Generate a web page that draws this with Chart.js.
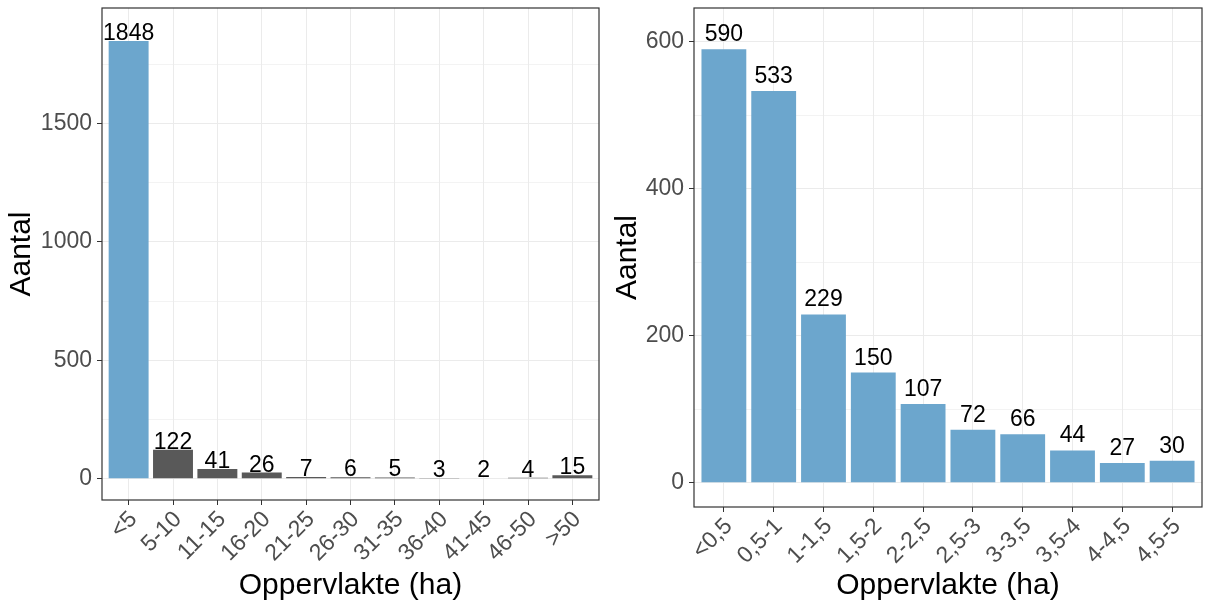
<!DOCTYPE html>
<html>
<head>
<meta charset="utf-8">
<script src="https://cdn.jsdelivr.net/npm/chart.js@4/dist/chart.umd.min.js"></script>
<style>
  html, body { margin: 0; padding: 0; background: #fff; }
  .panel { position: absolute; top: 0; height: 605px; }
</style>
</head>
<body>
<div class="panel" style="left:0;width:600px"><canvas id="left" width="600" height="605"></canvas></div>
<div class="panel" style="left:600px;width:605px"><canvas id="right" width="605" height="605"></canvas></div>
<script>
// all parcels, by size class
const leftCats = ['<5', '5-10', '11-15', '16-20', '21-25', '26-30', '31-35', '36-40', '41-45', '46-50', '>50'];
const leftCounts = [1848, 122, 41, 26, 7, 6, 5, 3, 2, 4, 15];
const leftYTicks = [0, 250, 500, 750, 1000, 1250, 1500, 1750];
const leftYLabels = [0, 500, 1000, 1500];

// detail of the <5 ha class
const rightCats = ['<0,5', '0,5-1', '1-1,5', '1,5-2', '2-2,5', '2,5-3', '3-3,5', '3,5-4', '4-4,5', '4,5-5'];
const rightCounts = [590, 533, 229, 150, 107, 72, 66, 44, 27, 30];
const rightYTicks = [0, 100, 200, 300, 400, 500, 600];
const rightYLabels = [0, 200, 400, 600];

const BLUE = '#6CA6CD';   // skyblue3
const GREY = '#595959';   // grey35
const FONT = '"Liberation Sans", Arial, sans-serif';
Chart.defaults.font.family = FONT;

// panel border + value labels on top of bars
const panelBits = {
  id: 'panelBits',
  afterDatasetsDraw(chart, args, opts) {
    const ctx = chart.ctx;
    const meta = chart.getDatasetMeta(0);
    const vals = chart.data.datasets[0].data;
    ctx.save();
    ctx.fillStyle = '#000';
    ctx.font = '23px ' + FONT;
    ctx.textAlign = 'center';
    ctx.textBaseline = 'alphabetic';
    meta.data.forEach((bar, i) => {
      ctx.fillText(String(vals[i].y), bar.x, bar.y - opts.gap);
    });
    const a = chart.chartArea;
    ctx.strokeStyle = '#333333';
    ctx.lineWidth = 1.2;
    ctx.strokeRect(a.left, a.top, a.right - a.left, a.bottom - a.top);
    ctx.restore();
  }
};

function makeChart(id, cats, counts, yTicks, yLabels, o) {
  return new Chart(document.getElementById(id), {
    type: 'bar',
    data: {
      datasets: [{
        data: cats.map((c, i) => ({ x: i, y: counts[i] })),
        backgroundColor: o.color,
        borderWidth: 0,
        categoryPercentage: 0.9,
        barPercentage: 1
      }]
    },
    options: {
      responsive: false,
      animation: false,
      devicePixelRatio: 1,
      layout: { padding: { left: 0, right: o.padRight, top: 8, bottom: 0 } },
      plugins: { legend: { display: false }, tooltip: { enabled: false }, panelBits: { gap: o.gap } },
      scales: {
        x: {
          type: 'linear',
          offset: false,
          min: -0.6,
          max: cats.length - 0.4,
          afterBuildTicks: s => { s.ticks = cats.map((c, i) => ({ value: i })); },
          afterFit: s => { s.height = o.xHeight; s.paddingLeft = 0; s.paddingRight = 0; },
          grid: {
            offset: false,
            color: '#EBEBEB',
            lineWidth: 1,
            tickColor: '#333333',
            tickLength: 5
          },
          border: { display: false },
          ticks: {
            autoSkip: false,
            includeBounds: false,
            minRotation: 45,
            maxRotation: 45,
            padding: 1,
            labelOffset: 5,
            color: '#4D4D4D',
            font: { size: 23 },
            callback: v => cats[Math.round(v)]
          },
          title: { display: true, text: 'Oppervlakte (ha)', color: '#000', font: { size: 30 }, padding: { top: 0, bottom: 1 } }
        },
        y: {
          min: o.yMin,
          max: o.yMax,
          afterBuildTicks: s => { s.ticks = yTicks.map(v => ({ value: v })); },
          afterFit: s => { s.width = o.yWidth; s.paddingTop = 0; s.paddingBottom = 0; },
          grid: {
            color: '#EBEBEB',
            lineWidth: c => yLabels.includes(c.tick && c.tick.value) ? 1 : 0.6,
            tickColor: c => yLabels.includes(c.tick && c.tick.value) ? '#333333' : 'rgba(0,0,0,0)',
            tickLength: 5
          },
          border: { display: false },
          ticks: {
            autoSkip: false,
            includeBounds: false,
            padding: 5,
            color: '#4D4D4D',
            font: { size: 23 },
            callback: v => yLabels.includes(v) ? String(v) : ''
          },
          title: { display: true, text: 'Aantal', color: '#000', font: { size: 30 }, padding: { top: o.titlePad, bottom: 0 } }
        }
      }
    },
    plugins: [panelBits]
  });
}

makeChart('left', leftCats, leftCounts, leftYTicks, leftYLabels, {
  color: c => c.dataIndex === 0 ? BLUE : GREY,
  gap: 1, padRight: 1, xHeight: 105, yWidth: 102, yMin: -90, yMax: 1987, titlePad: 4
});

makeChart('right', rightCats, rightCounts, rightYTicks, rightYLabels, {
  color: BLUE,
  gap: 8, padRight: 3, xHeight: 98, yWidth: 94, yMin: -33, yMax: 646, titlePad: 10
});
</script>
</body>
</html>
